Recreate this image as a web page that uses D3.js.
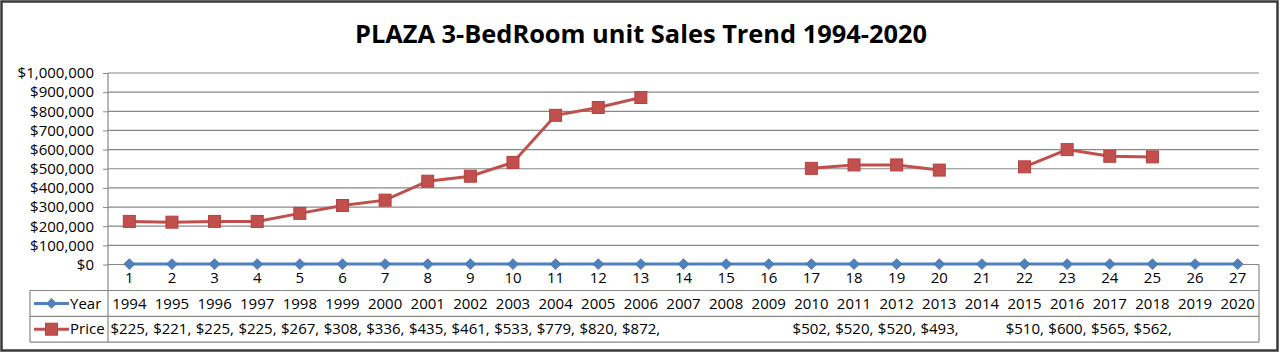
<!DOCTYPE html>
<html>
<head>
<meta charset="utf-8">
<script src="https://cdn.jsdelivr.net/npm/d3@7"></script>
<style>
  body { margin: 0; background: #fff; }
  svg text { font-family: "Open Sans", "Noto Sans", sans-serif; fill: #000; }
</style>
</head>
<body>
<svg id="chart" width="1280" height="353"></svg>
<script>
// chart data
const categories = d3.range(1, 28);
const years = [1994, 1995, 1996, 1997, 1998, 1999, 2000, 2001, 2002, 2003, 2004, 2005, 2006, 2007,
  2008, 2009, 2010, 2011, 2012, 2013, 2014, 2015, 2016, 2017, 2018, 2019, 2020];
const prices = [225000, 221000, 225000, 225000, 267000, 308000, 336000, 435000, 461000, 533000,
  779000, 820000, 872000, null, null, null, 502000, 520000, 520000, 493000, null,
  510000, 600000, 565000, 562000, null, null];
// the data table shows the price cells cut off like this
const priceLabels = ["$225,", "$221,", "$225,", "$225,", "$267,", "$308,", "$336,", "$435,", "$461,",
  "$533,", "$779,", "$820,", "$872,", "", "", "", "$502,", "$520,", "$520,", "$493,", "",
  "$510,", "$600,", "$565,", "$562,", "", ""];
const yTicks = [0, 100000, 200000, 300000, 400000, 500000, 600000, 700000, 800000, 900000, 1000000];
const title = "PLAZA 3-BedRoom unit Sales Trend 1994-2020";

const blue = "#4f81bd", red = "#c0504d", grid = "#888888";
const fs = "15px";

let svg = d3.select("#chart");

// outer frame
svg.append("rect")
  .attr("x", 1.5).attr("y", 1.5)
  .attr("width", 1276).attr("height", 349)
  .attr("fill", "#fff")
  .attr("stroke", "#3a3a3a")
  .attr("stroke-width", 2.5);

svg.append("text")
  .attr("x", 641).attr("y", 43)
  .attr("text-anchor", "middle")
  .style("font-size", "25.4px")
  .style("font-weight", "bold")
  .text(title);

let plotLeft = 108, plotRight = 1259, plotTop = 73, plotBottom = 264.5;

let xScale = d3.scaleBand()
  .domain(categories)
  .range([plotLeft, plotRight]);
let yScale = d3.scaleLinear()
  .domain([0, 1000000])
  .range([plotBottom, plotTop]);
let cx = d => xScale(d) + xScale.bandwidth() / 2;

// gridlines + y axis
let yAxis = d3.axisLeft(yScale)
  .tickValues(yTicks)
  .tickSize(5)
  .tickPadding(9)
  .tickFormat(d => "$" + d3.format(",")(d));
let gy = svg.append("g")
  .attr("transform", "translate(" + plotLeft + ",0)")
  .call(yAxis);
gy.select(".domain").remove();
gy.selectAll("line").attr("stroke", grid);
gy.selectAll("text").style("font-size", fs).attr("font-family", null).attr("fill", "#000");

svg.append("g").selectAll("line").data(yTicks).enter().append("line")
  .attr("x1", plotLeft).attr("x2", plotRight)
  .attr("y1", d => yScale(d)).attr("y2", d => yScale(d))
  .attr("stroke", grid).attr("stroke-width", 1.2);

// table rows
let tableTop = 290.5, rowH = 25.8, tableLeft = 30;
let rowLines = [tableTop, tableTop + rowH, tableTop + 2 * rowH];
svg.append("g").selectAll("line").data(rowLines).enter().append("line")
  .attr("x1", tableLeft).attr("x2", plotRight)
  .attr("y1", d => d).attr("y2", d => d)
  .attr("stroke", grid).attr("stroke-width", 1.2);
// verticals: axis line, table left, right edge
svg.append("line").attr("x1", plotLeft).attr("x2", plotLeft).attr("y1", plotTop).attr("y2", rowLines[2])
  .attr("stroke", grid).attr("stroke-width", 1.2);
svg.append("line").attr("x1", tableLeft).attr("x2", tableLeft).attr("y1", tableTop).attr("y2", rowLines[2])
  .attr("stroke", grid).attr("stroke-width", 1.2);
svg.append("line").attr("x1", plotRight).attr("x2", plotRight).attr("y1", plotBottom).attr("y2", rowLines[2])
  .attr("stroke", grid).attr("stroke-width", 1.2);

// category labels
let xAxis = d3.axisBottom(xScale).tickSize(0).tickPadding(8);
let gx = svg.append("g")
  .attr("transform", "translate(0," + plotBottom + ")")
  .call(xAxis);
gx.select(".domain").remove();
gx.selectAll("text").style("font-size", fs).attr("font-family", null).attr("fill", "#000");

// table cells
svg.append("g").selectAll("text").data(years).enter().append("text")
  .attr("x", (d, i) => cx(categories[i]))
  .attr("y", tableTop + rowH / 2 + 5.5)
  .attr("text-anchor", "middle")
  .style("font-size", fs)
  .text(d => d);
svg.append("g").selectAll("text").data(priceLabels).enter().append("text")
  .attr("x", (d, i) => xScale(categories[i]) + 2.5)
  .attr("y", tableTop + rowH * 1.5 + 5)
  .style("font-size", fs)
  .text(d => d);

// series lines
let yearLine = d3.line()
  .x((d, i) => cx(categories[i]))
  .y(d => yScale(d));
svg.append("path")
  .datum(years)
  .attr("d", yearLine)
  .attr("fill", "none").attr("stroke", blue).attr("stroke-width", 3);

let priceLine = d3.line()
  .defined(d => d != null)
  .x((d, i) => cx(categories[i]))
  .y(d => yScale(d));
svg.append("path")
  .datum(prices)
  .attr("d", priceLine)
  .attr("fill", "none").attr("stroke", red).attr("stroke-width", 3);

// markers
let diamond = d3.symbol().type(d3.symbolDiamond2).size(75);
svg.append("g").selectAll("path").data(years).enter().append("path")
  .attr("d", diamond)
  .attr("transform", (d, i) => "translate(" + cx(categories[i]) + "," + yScale(d) + ")")
  .attr("fill", blue).attr("stroke", "#4475b0").attr("stroke-width", 0.8);

svg.append("g").selectAll("rect").data(prices.map((v, i) => ({v: v, c: categories[i]})).filter(d => d.v != null))
  .enter().append("rect")
  .attr("x", d => cx(d.c) - 6).attr("y", d => yScale(d.v) - 6)
  .attr("width", 12).attr("height", 12)
  .attr("fill", red).attr("stroke", "#b8403d").attr("stroke-width", 1);

// legend keys inside the table
let keyY1 = tableTop + rowH / 2, keyY2 = tableTop + rowH * 1.5;
svg.append("line").attr("x1", 34).attr("x2", 69).attr("y1", keyY1).attr("y2", keyY1)
  .attr("stroke", blue).attr("stroke-width", 3);
svg.append("path").attr("d", diamond).attr("transform", "translate(51.5," + keyY1 + ")")
  .attr("fill", blue);
svg.append("text").attr("x", 70).attr("y", keyY1 + 5.5).style("font-size", fs).text("Year");

svg.append("line").attr("x1", 34).attr("x2", 69).attr("y1", keyY2).attr("y2", keyY2)
  .attr("stroke", red).attr("stroke-width", 3);
svg.append("rect").attr("x", 45.5).attr("y", keyY2 - 6).attr("width", 12).attr("height", 12)
  .attr("fill", red).attr("stroke", "#b8403d");
svg.append("text").attr("x", 70).attr("y", keyY2 + 5).style("font-size", fs).text("Price");
</script>
</body>
</html>
